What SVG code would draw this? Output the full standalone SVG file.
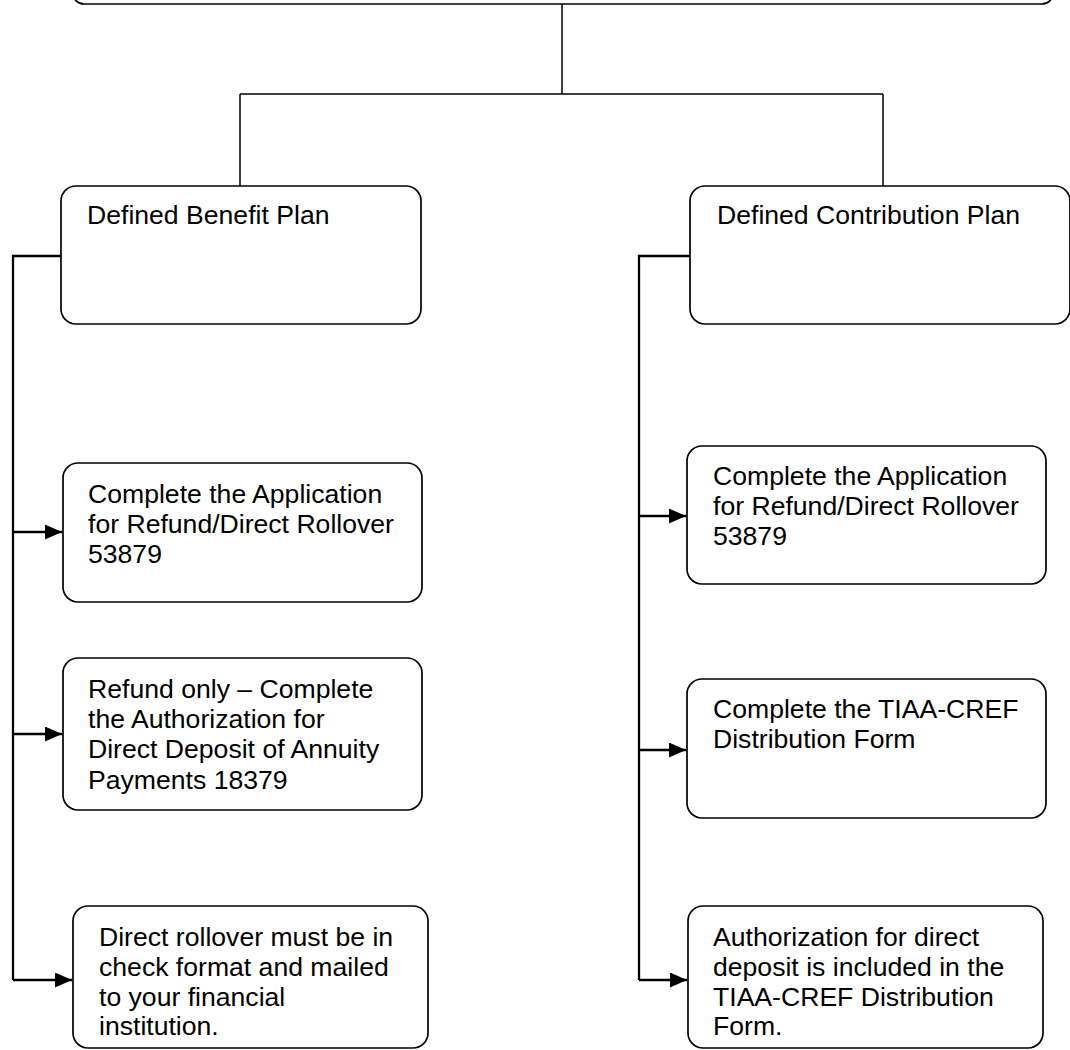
<svg xmlns="http://www.w3.org/2000/svg" width="1070" height="1050" viewBox="0 0 1070 1050">
<style>
.box{fill:#fff;stroke:#000;stroke-width:1.7}
.t{font-family:"Liberation Sans",Arial,sans-serif;font-size:26.6px;fill:#000}
.tree{fill:none;stroke:#000;stroke-width:1.5}
.conn{fill:none;stroke:#000;stroke-width:2.3}
</style>
<defs>
<marker id="ah" markerUnits="userSpaceOnUse" markerWidth="18" markerHeight="16" refX="17" refY="7.5" orient="auto">
<path d="M0,0 L17,7.5 L0,15 Z" fill="#000"/>
</marker>
</defs>
<rect width="1070" height="1050" fill="#fff"/>
<g id="connectors">
<path class="tree" d="M562,4 V94 M240,94 H883 M240,94 V186 M883,94 V186"/>
<path class="conn" d="M61,256 H13 V980"/>
<path class="conn" d="M13,532 H62" marker-end="url(#ah)"/>
<path class="conn" d="M13,734 H62" marker-end="url(#ah)"/>
<path class="conn" d="M13,980 H72" marker-end="url(#ah)"/>
<path class="conn" d="M690,256 H639 V980"/>
<path class="conn" d="M639,516 H686" marker-end="url(#ah)"/>
<path class="conn" d="M639,750 H686" marker-end="url(#ah)"/>
<path class="conn" d="M639,980 H687" marker-end="url(#ah)"/>
</g>
<g id="top">
<rect class="box" x="73" y="-40" width="980" height="44" rx="11"/>
</g>
<g id="db">
<rect class="box" x="61" y="186" width="360" height="138" rx="15"/>
<text class="t" x="87" y="224">Defined Benefit Plan</text>
</g>
<g id="dc">
<rect class="box" x="690" y="186" width="380" height="138" rx="15"/>
<text class="t" x="717" y="224">Defined Contribution Plan</text>
</g>
<g id="db1">
<rect class="box" x="63" y="463" width="359" height="139" rx="15"/>
<text class="t"><tspan x="88" y="503">Complete the Application</tspan><tspan x="88" y="533">for Refund/Direct Rollover</tspan><tspan x="88" y="563">53879</tspan></text>
</g>
<g id="db2">
<rect class="box" x="63" y="658" width="359" height="152" rx="15"/>
<text class="t"><tspan x="88" y="698">Refund only – Complete</tspan><tspan x="88" y="728">the Authorization for</tspan><tspan x="88" y="758">Direct Deposit of Annuity</tspan><tspan x="88" y="789">Payments 18379</tspan></text>
</g>
<g id="db3">
<rect class="box" x="73" y="906" width="355" height="142" rx="15"/>
<text class="t"><tspan x="99" y="946">Direct rollover must be in</tspan><tspan x="99" y="976">check format and mailed</tspan><tspan x="99" y="1006">to your financial</tspan><tspan x="99" y="1035">institution.</tspan></text>
</g>
<g id="dc1">
<rect class="box" x="687" y="446" width="359" height="138" rx="15"/>
<text class="t"><tspan x="713" y="485">Complete the Application</tspan><tspan x="713" y="515">for Refund/Direct Rollover</tspan><tspan x="713" y="545">53879</tspan></text>
</g>
<g id="dc2">
<rect class="box" x="687" y="679" width="359" height="139" rx="15"/>
<text class="t"><tspan x="713" y="718">Complete the TIAA-CREF</tspan><tspan x="713" y="748">Distribution Form</tspan></text>
</g>
<g id="dc3">
<rect class="box" x="688" y="906" width="355" height="142" rx="15"/>
<text class="t"><tspan x="713" y="946">Authorization for direct</tspan><tspan x="713" y="976">deposit is included in the</tspan><tspan x="713" y="1006">TIAA-CREF Distribution</tspan><tspan x="713" y="1035">Form.</tspan></text>
</g>
</svg>
